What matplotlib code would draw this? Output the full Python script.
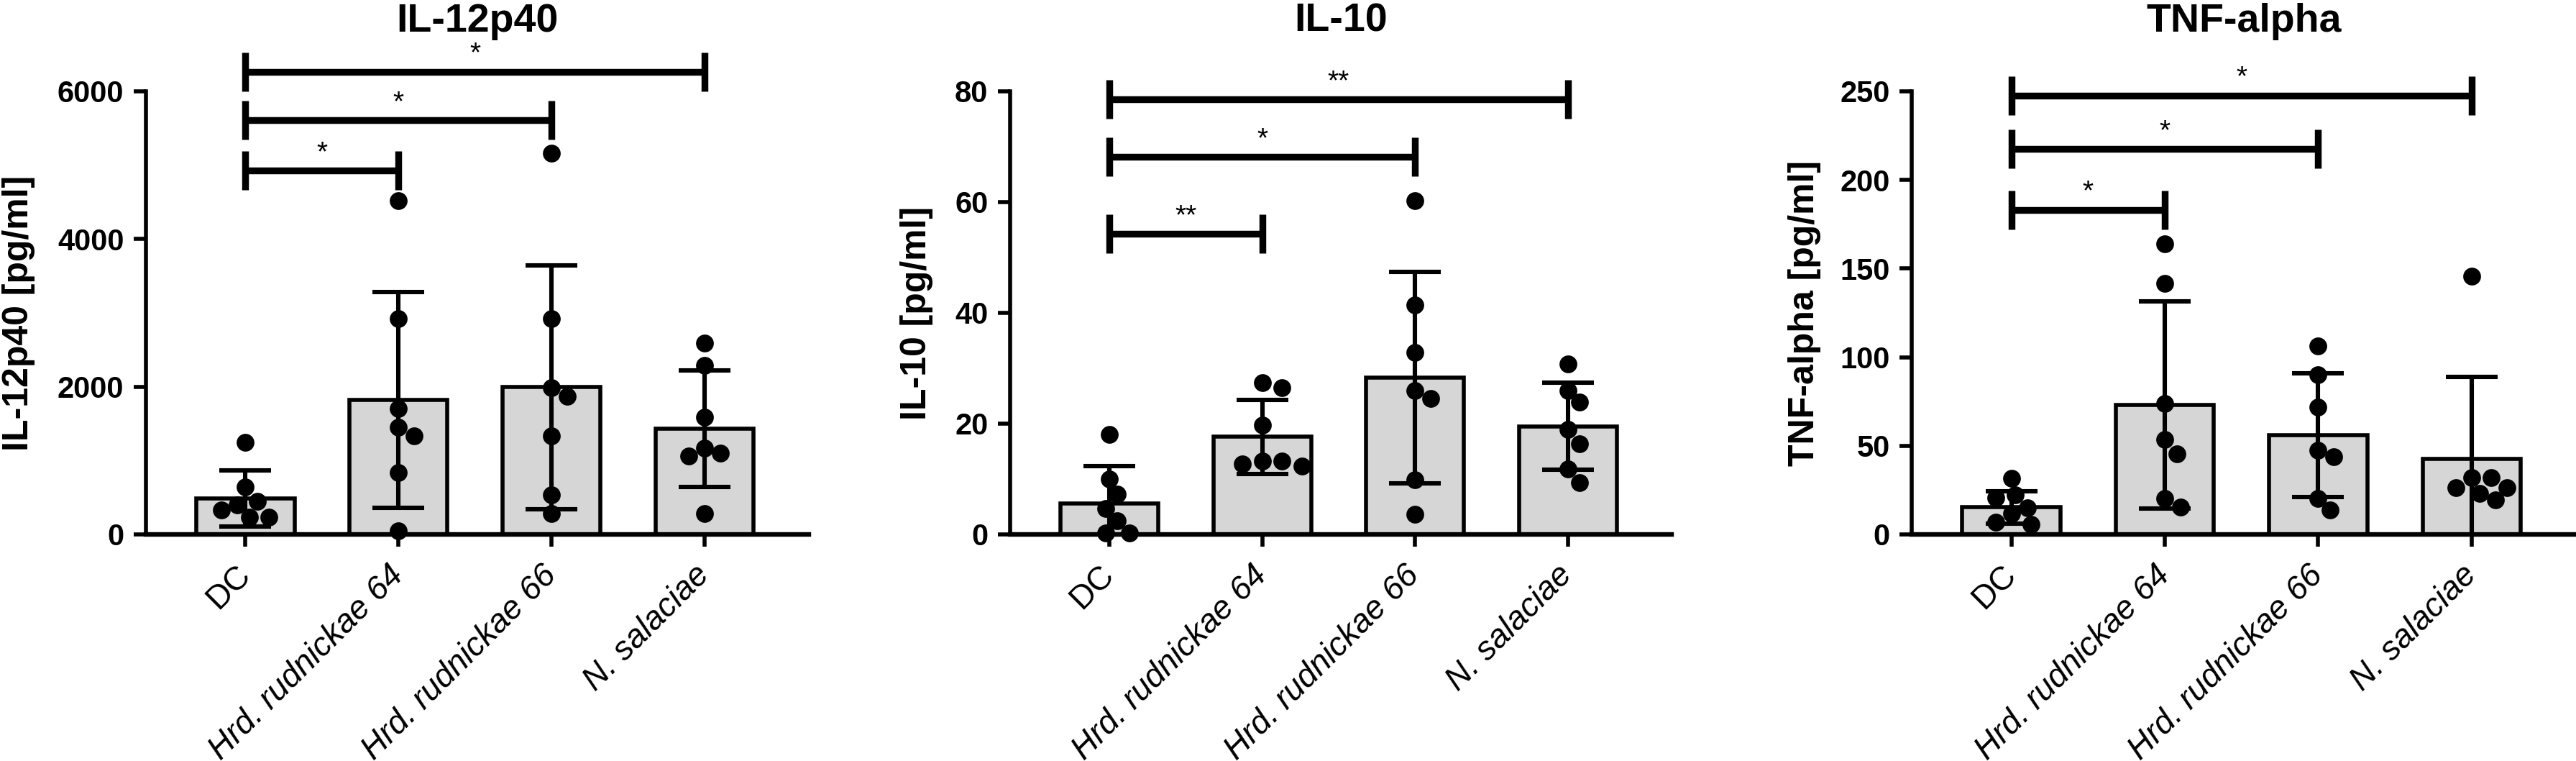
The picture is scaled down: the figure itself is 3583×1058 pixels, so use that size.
import matplotlib
matplotlib.use('Agg')
import matplotlib.pyplot as plt
import matplotlib.transforms as mtransforms
import numpy as np

plt.rcParams['font.family'] = ['Liberation Sans', 'DejaVu Sans']

groups = ['DC', 'Hrd. rudnickae 64', 'Hrd. rudnickae 66', 'N. salaciae']
italic = [False, True, True, True]

titles = ['IL-12p40', 'IL-10', 'TNF-alpha']
ylabels = ['IL-12p40 [pg/ml]', 'IL-10 [pg/ml]', 'TNF-alpha [pg/ml]']
yticks = [[0, 2000, 4000, 6000], [0, 20, 40, 60, 80], [0, 50, 100, 150, 200, 250]]

# IL-12p40
il12_mean = [490, 1821, 1995, 1430]
il12_sd = [380, 1464, 1650, 790]
il12_pts = [[1247, 640, 444, 397, 327, 233, 233],
            [4515, 2918, 1704, 1447, 1331, 840, 47],
            [5159, 2918, 1984, 1868, 1331, 537, 280],
            [2591, 2288, 1588, 1167, 1097, 1064, 280]]
il12_sig = [(0, 1, 4926, '*'), (0, 2, 5612, '*'), (0, 3, 6266, '*')]

# IL-10
il10_mean = [5.6, 17.6, 28.3, 19.5]
il10_sd = [6.8, 6.75, 19.05, 7.85]
il10_pts = [[18.0, 10.0, 7.3, 4.7, 2.5, 0.3, 0.3],
            [27.4, 26.5, 19.7, 13.3, 13.3, 12.7, 12.4],
            [60.2, 41.4, 32.9, 26.0, 24.5, 9.9, 3.7],
            [30.8, 26.0, 23.9, 18.9, 16.4, 11.8, 9.3]]
il10_sig = [(0, 1, 54.3, '**'), (0, 2, 68.2, '*'), (0, 3, 78.6, '**')]

# TNF-alpha
tnf_mean = [15.3, 73.0, 56.0, 42.7]
tnf_sd = [9.2, 58.3, 35.0, 46.3]
tnf_pts = [[31.5, 22.3, 20.8, 15.0, 11.7, 6.8, 5.8],
           [164.1, 141.8, 73.8, 53.4, 45.3, 20.4, 15.5],
           [106.4, 90.3, 71.9, 47.6, 43.7, 20.4, 13.6],
           [145.7, 32.1, 32.1, 26.2, 26.2, 23.3, 19.4]]
tnf_sig = [(0, 1, 183.2, '*'), (0, 2, 217.6, '*'), (0, 3, 247.7, '*')]

means = [il12_mean, il10_mean, tnf_mean]
sds = [il12_sd, il10_sd, tnf_sd]
points = [il12_pts, il10_pts, tnf_pts]
sigs = [il12_sig, il10_sig, tnf_sig]

W, H, DPI = 3583, 1058, 200
fig = plt.figure(figsize=(W / DPI, H / DPI), dpi=DPI)

lefts = [203, 1405, 2659]
widths = [922, 920, 924]
ylab_x = [-0.167, -0.116, -0.136]
dot_px = 22

# nudge for the rotated category labels (right, down)
lbl_shift = mtransforms.ScaledTranslation(4 / 72, -9 / 72, fig.dpi_scale_trans)


def swarm(ax, vals, d):
    # simple beeswarm in pixel space, returns x offsets in data units
    tr = ax.transData
    ypx = np.array([tr.transform((0, v))[1] for v in vals])
    xunit = tr.transform((1, 0))[0] - tr.transform((0, 0))[0]
    cands = sorted(np.arange(-8, 8.01, 0.25) * d, key=lambda c: (abs(c), c < 0))
    placed = []
    offs = np.zeros(len(vals))
    for i in np.argsort(vals)[::-1]:
        for c in cands:
            if all((c - px) ** 2 + (ypx[i] - py) ** 2 >= (1.05 * d) ** 2 for px, py in placed):
                offs[i] = c
                placed.append((c, ypx[i]))
                break
    return offs / xunit


for k in range(3):
    ax = fig.add_axes([lefts[k] / W, 315 / H, widths[k] / W, 616 / H])
    x = np.arange(len(groups))
    ax.set_xlim(-0.65, 3.68)
    ax.set_ylim(0, yticks[k][-1])

    ax.bar(x, means[k], width=0.64, color='#d6d6d6', edgecolor='black',
           linewidth=2, zorder=1)
    ax.errorbar(x, means[k], yerr=sds[k], fmt='none', ecolor='black',
                elinewidth=2.2, capsize=13, capthick=2.2, zorder=2)
    for i, pts in enumerate(points[k]):
        off = swarm(ax, pts, dot_px)
        ax.plot(i + off, pts, 'o', color='black', ms=7.9, clip_on=False, zorder=3)

    top = yticks[k][-1]
    half = top * 27 / 616
    for a, b, yv, lab in sigs[k]:
        ax.plot([a, a], [yv - half, yv + half], color='black', lw=3.4,
                solid_capstyle='butt', clip_on=False)
        ax.plot([b, b], [yv - half, yv + half], color='black', lw=3.4,
                solid_capstyle='butt', clip_on=False)
        ax.plot([a, b], [yv, yv], color='black', lw=3.4, solid_capstyle='butt', clip_on=False)
        ax.annotate(lab, xy=((a + b) / 2, yv), xytext=(0, 5), textcoords='offset points',
                    ha='center', va='baseline', fontsize=14, annotation_clip=False)

    ax.set_title(titles[k], fontsize=20, fontweight='bold', pad=30)
    ax.set_ylabel(ylabels[k], fontsize=18, fontweight='bold')
    ax.yaxis.set_label_coords(ylab_x[k], 0.5)

    ax.set_yticks(yticks[k])
    ax.set_yticklabels([str(t) for t in yticks[k]], fontsize=15, fontweight='bold')
    ax.set_xticks(x)
    ax.set_xticklabels(groups, fontsize=16.5, rotation=45, ha='right', va='center',
                       rotation_mode='anchor')
    for lbl, it in zip(ax.get_xticklabels(), italic):
        if it:
            lbl.set_style('italic')
        lbl.set_transform(lbl.get_transform() + lbl_shift)

    for s in ['top', 'right']:
        ax.spines[s].set_visible(False)
    ax.spines['left'].set_linewidth(2)
    ax.spines['bottom'].set_linewidth(2.3)
    ax.tick_params(axis='both', direction='out', length=6, width=2)
    ax.tick_params(axis='y', pad=5)
    ax.tick_params(axis='x', pad=12)

fig.savefig('out.png', dpi=DPI)
